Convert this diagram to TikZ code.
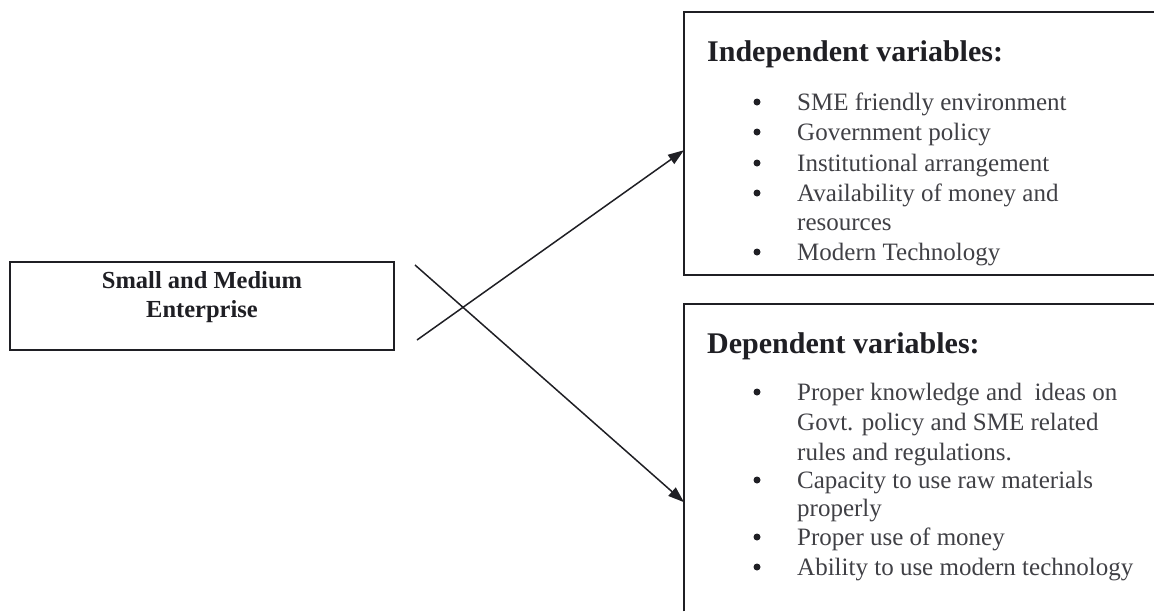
\documentclass[tikz,border=0pt]{standalone}
\usepackage{fontspec}
\setmainfont{Liberation Serif}
\usetikzlibrary{arrows.meta}
\definecolor{ink}{rgb}{0.12,0.12,0.14}
\definecolor{itemink}{rgb}{0.25,0.25,0.27}
\tikzset{
  x=1pt, y=-1pt,
  frame/.style={draw=ink, line width=2pt},
  smebox/.style={frame, minimum width=384pt, minimum height=88pt, inner sep=0pt},
  smetext/.style={align=center, text=ink, font=\fontsize{24.5}{29}\selectfont\bfseries},
  varbox/.style={draw=none, inner sep=0pt, anchor=north west},
  heading/.style={anchor=base west, text=ink, inner sep=0pt, font=\fontsize{30}{32}\selectfont\bfseries},
  bullet/.style={circle, fill=ink, inner sep=0pt, minimum size=7pt},
  itemtext/.style={anchor=base west, text=itemink, inner sep=0pt, font=\fontsize{25}{30}\selectfont},
  link/.style={draw=ink, line width=1.5pt, -{Triangle[length=16pt,width=11pt]}}
}
\newcommand{\bulletitem}[2]{%
  \node[bullet] at (757,#1-8) {};
  \node[itemtext] at (797,#1) {#2};}
\begin{document}
\begin{tikzpicture}
\useasboundingbox (0,0) rectangle (1154,611);

% left box
\node[smebox] (sme) at (202,306) {};
\node[smetext] (smelabel) at ([yshift=9pt]sme.center) {Small and Medium\\Enterprise};

% right boxes (open towards the page edges)
\node[varbox, minimum width=470pt, minimum height=263pt] (indep) at (684,12) {};
\node[varbox, minimum width=470pt, minimum height=307pt] (dep) at (684,304) {};
\draw[frame] (indep.north east) -- (indep.north west) -- (indep.south west) -- (indep.south east);
\draw[frame] (dep.south west) -- (dep.north west) -- (dep.north east);

% independent variables
\node[heading] (indephead) at (707,61) {Independent variables:};
\bulletitem{110}{SME friendly environment}
\bulletitem{140}{Government policy}
\bulletitem{171}{Institutional arrangement}
\bulletitem{201}{Availability of money and}
\node[itemtext] at (797,230) {resources};
\bulletitem{260}{Modern Technology}

% dependent variables
\node[heading] (dephead) at (707,353) {Dependent variables:};
\bulletitem{400}{Proper knowledge and\ \ ideas on}
\node[itemtext] at (797,430) {Govt. policy and SME related};
\node[itemtext] at (797,460) {rules and regulations.};
\bulletitem{488}{Capacity to use raw materials}
\node[itemtext] at (797,516) {properly};
\bulletitem{545}{Proper use of money}
\bulletitem{575}{Ability to use modern technology}

% crossing connectors
\coordinate (s1) at (417,340);
\coordinate (s2) at (415,265);
\draw[link] (s1) -- ([yshift=-6.5pt]indep.west);
\draw[link] (s2) -- ([yshift=-44.5pt]dep.west);
\end{tikzpicture}
\end{document}
